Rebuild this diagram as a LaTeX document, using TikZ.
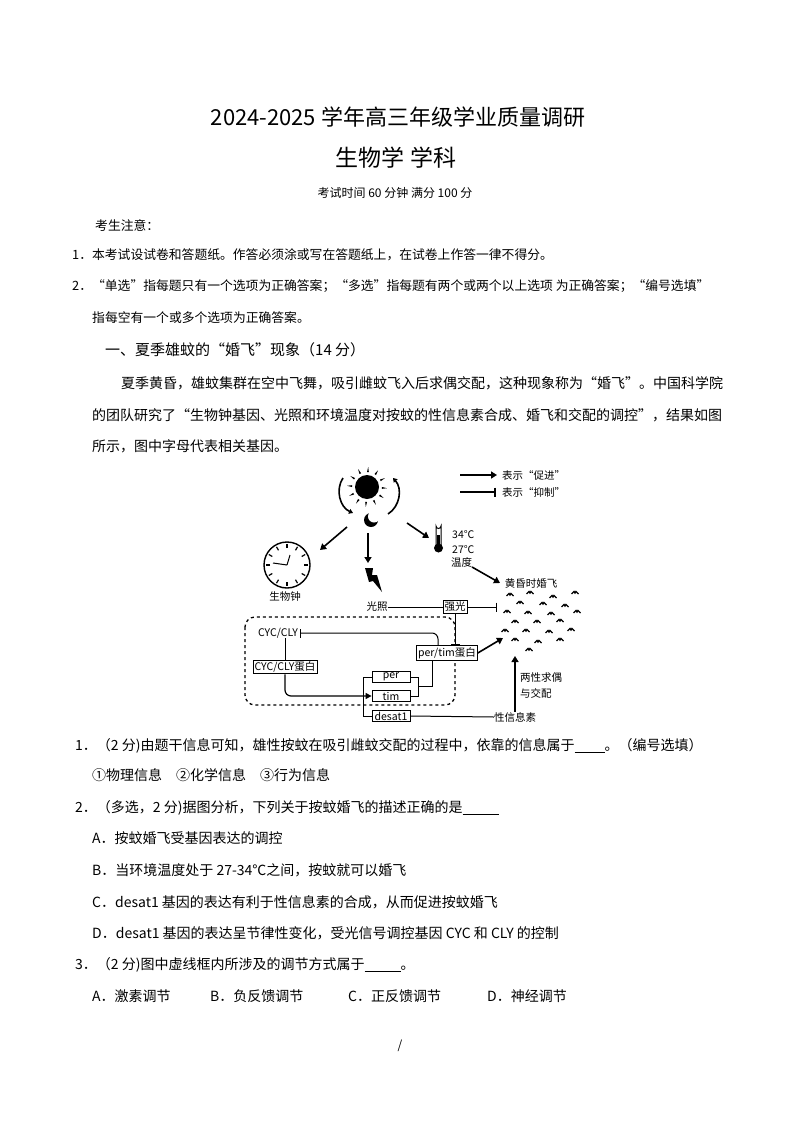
\documentclass[tikz,border=0pt]{standalone}
\usepackage{fontspec}
\setmainfont{Noto Sans CJK SC}
\usetikzlibrary{arrows.meta,calc}
\newcommand\fz[1]{\fontsize{#1}{#1}\selectfont}
\begin{document}
\begin{tikzpicture}[x=1pt,y=-1pt,
  t/.style={anchor=west,inner sep=0pt,font=\fz{14}},
  d/.style={inner sep=0pt,font=\fz{10.5}},
  bx/.style={draw,thick,fill=white,inner sep=1.5pt,font=\fz{10.5}},
  ar/.style={line width=1.6pt,-{Triangle[length=6pt,width=7pt]}},
  ln/.style={line width=1pt},
  inh/.style={line width=1pt,-{Bar[width=9pt]}},
  mos/.pic={\draw[line width=1.3pt] (-3.5,1) -- (-1,-1.5) -- (0,0) -- (1,-1.5) -- (3.5,1);}]
\useasboundingbox (0,0) rectangle (793,1123);
% header
\node[inner sep=0,font=\fz{22}] (title) at (398,117) {2024-2025 学年高三年级学业质量调研};
\node[inner sep=0,font=\fz{23}] (sub) at (396,158) {生物学 学科};
\node[inner sep=0,font=\fz{12}] (time) at (395,193) {考试时间 60 分钟 满分 100 分};
\node[t,font=\fz{12.8}] (n0) at (95,226) {考生注意：};
\node[t,font=\fz{12.8}] (n1) at (72,255) {1．本考试设试卷和答题纸。作答必须涂或写在答题纸上，在试卷上作答一律不得分。};
\node[t,font=\fz{12.8}] (n2) at (72,286) {2．“单选”指每题只有一个选项为正确答案；“多选”指每题有两个或两个以上选项 为正确答案；“编号选填”};
\node[t,font=\fz{12.8}] (n3) at (92,318) {指每空有一个或多个选项为正确答案。};
\node[t,font=\fz{15}] (sec) at (105,350) {一、夏季雄蚊的“婚飞”现象（14 分）};
\node[t] (p1) at (121,383) {夏季黄昏，雄蚊集群在空中飞舞，吸引雌蚊飞入后求偶交配，这种现象称为“婚飞”。中国科学院};
\node[t] (p2) at (92,415) {的团队研究了“生物钟基因、光照和环境温度对按蚊的性信息素合成、婚飞和交配的调控”，结果如图};
\node[t] (p3) at (92,446) {所示，图中字母代表相关基因。};
% ---- diagram ----
\coordinate (l1a) at (460,475); \coordinate (l1b) at (497,475);
\draw[ar] (l1a) -- (l1b);
\node[d,anchor=west] (leg1) at (502,475) {表示“促进”};
\coordinate (l2a) at (460,492); \coordinate (l2b) at (496,492);
\draw[inh,line width=1.6pt] (l2a) -- (l2b);
\node[d,anchor=west] (leg2) at (502,492) {表示“抑制”};
% sun
\coordinate (sun) at (367,487);
\fill (sun) circle (12);
\foreach \a in {0,30,...,330}{\fill ($(sun)+(\a:15)$) -- ($(sun)+(\a+7:15)$) -- ($(sun)+(\a+3.5:20)$) -- cycle;}
\draw[line width=1.6pt,-{Triangle[length=4pt,width=5pt]}] (343,478) to[bend right=50] (353,513);
\draw[line width=1.6pt,-{Triangle[length=4pt,width=5pt]}] (388,514) to[bend right=50] (393,478);
% moon
\fill (371,520) circle (7);
\fill[white] (374,516.5) circle (6);
\node[inner sep=0,minimum size=14pt] (moon) at (371,520) {};
% clock
\node[draw,circle,line width=1.4pt,minimum size=46pt,inner sep=0] (clock) at (287,565) {};
\foreach \a in {0,30,...,330}{\draw[line width=1.2pt] ($(clock.center)+(\a:17)$) -- ($(clock.center)+(\a:21)$);}
\draw[line width=1pt] (clock.center) -- ++(-14,-2) (clock.center) -- ++(3,-10);
\node[d] (clk) at (285,597) {生物钟};
% lightning
\coordinate (bolt) at (372,580);
\fill (365,568) -- (373,568) -- (372,575) -- (377,575) -- (382,592) -- (373,581) -- (369,582) -- cycle;
% thermometer
\draw[line width=1pt,fill=white] (436,545) -- (436,526) arc (180:0:2.5) -- (441,545);
\fill (438.5,548) circle (4.5);
\fill (437.3,535) rectangle (439.7,546);
\node[inner sep=0,minimum width=12pt,minimum height=26pt] (therm) at (438,538) {};
\node[d,anchor=west] (t34) at (452,535) {34℃};
\node[d,anchor=west] (t27) at (452,550) {27℃};
\node[d,anchor=west] (tmp) at (451,562) {温度};
% arrows from sun
\draw[ar] (347,527) -- (320,550);
\draw[ar] (368,533) -- (368,563);
\draw[ar] (407,523) -- (429,538);
\draw[ar] (472,567) -- (500,583);
\node[d] (hun) at (531,584) {黄昏时婚飞};
% swarm
\foreach \p in {(510,595),(530,593),(553,597),(575,593),(520,603),(543,604),(565,606),(507,612),(528,613),(551,614),(577,612),(515,622),(537,622),(560,621),(505,631),(526,631),(549,632),(571,630),(515,640),(538,642),(560,640),(529,650)}
  \pic at \p {mos};
\coordinate (swarmL) at (497,607);
\coordinate (swarmB) at (503,638);
\coordinate (swarmD) at (515,656);
% light
\node[d] (guang) at (377,607) {光照};
\node[bx] (qiang) at (455,607) {强光};
\draw[ln] (guang) -- (qiang);
\draw[inh] (qiang) -- (swarmL);
% dashed box
\draw[line width=1.3pt,dashed,rounded corners=10pt] (245,617) rectangle (455,705);
\node[d] (cyc) at (278,633) {CYC/CLY};
\node[bx] (cycp) at (285,667) {CYC/CLY蛋白};
\node[bx] (ptp) at (447,653) {per/tim蛋白};
\node[bx,minimum width=38pt] (per) at (391,677) {per};
\node[bx,minimum width=38pt] (tim) at (391,696) {tim};
\node[bx,minimum width=38pt] (des) at (391,716) {desat1};
\draw[inh] (qiang.south) -- (qiang.south|-ptp.north);
\draw[ln,-{Bar[width=9pt]},rounded corners=6pt] (ptp.north-|438,0) |- ($(cyc.east)+(2,0)$);
\draw[ln] (cyc.south-|cycp) -- (cycp.north);
\draw[line width=1.2pt,-{Triangle[length=6pt,width=6pt]},rounded corners=6pt] (cycp.south) |- (tim.west-|363,0) -- (tim.west);
\draw[ln] (363,677) -- (363,716);
\draw[ln] (363,677) -- (per.west);
\draw[ln] (363,716) -- (des.west);
\draw[ln] (per.east) -- ++(8,0) |- (tim.east);
\draw[ln] ($(per.east)!0.5!(tim.east)+(8,0)$) -| (ptp.south-|432,0);
\draw[ar] (ptp.east) -- (swarmB);
\node[d] (xin) at (515,717) {性信息素};
\draw[ln] (des.east) -- (xin.west);
\draw[ar] (xin.north) -- (swarmD);
\node[d,anchor=west] (lx1) at (520,678) {两性求偶};
\node[d,anchor=west] (lx2) at (520,693) {与交配};
% questions
\node[t] (q1) at (75,746) {1．（2 分)由题干信息可知，雄性按蚊在吸引雌蚊交配的过程中，依靠的信息属于\underline{\hspace{30pt}}。（编号选填）};
\node[t] (q1o) at (92,775) {①物理信息\quad ②化学信息\quad ③行为信息};
\node[t] (q2) at (75,808) {2．（多选，2 分)据图分析，下列关于按蚊婚飞的描述正确的是\underline{\hspace{36pt}}};
\node[t] (q2a) at (92,838) {A．按蚊婚飞受基因表达的调控};
\node[t] (q2b) at (92,870) {B．当环境温度处于 27-34℃之间，按蚊就可以婚飞};
\node[t] (q2c) at (92,902) {C．desat1 基因的表达有利于性信息素的合成，从而促进按蚊婚飞};
\node[t] (q2d) at (92,933) {D．desat1 基因的表达呈节律性变化，受光信号调控基因 CYC 和 CLY 的控制};
\node[t] (q3) at (75,965) {3．（2 分)图中虚线框内所涉及的调节方式属于\underline{\hspace{36pt}}。};
\node[t] (q3a) at (92,996) {A．激素调节};
\node[t] (q3b) at (210,996) {B．负反馈调节};
\node[t] (q3c) at (348,996) {C．正反馈调节};
\node[t] (q3d) at (487,996) {D．神经调节};
\node[inner sep=0,font=\fz{12}] (foot) at (400,1046) {/};
\end{tikzpicture}
\end{document}
